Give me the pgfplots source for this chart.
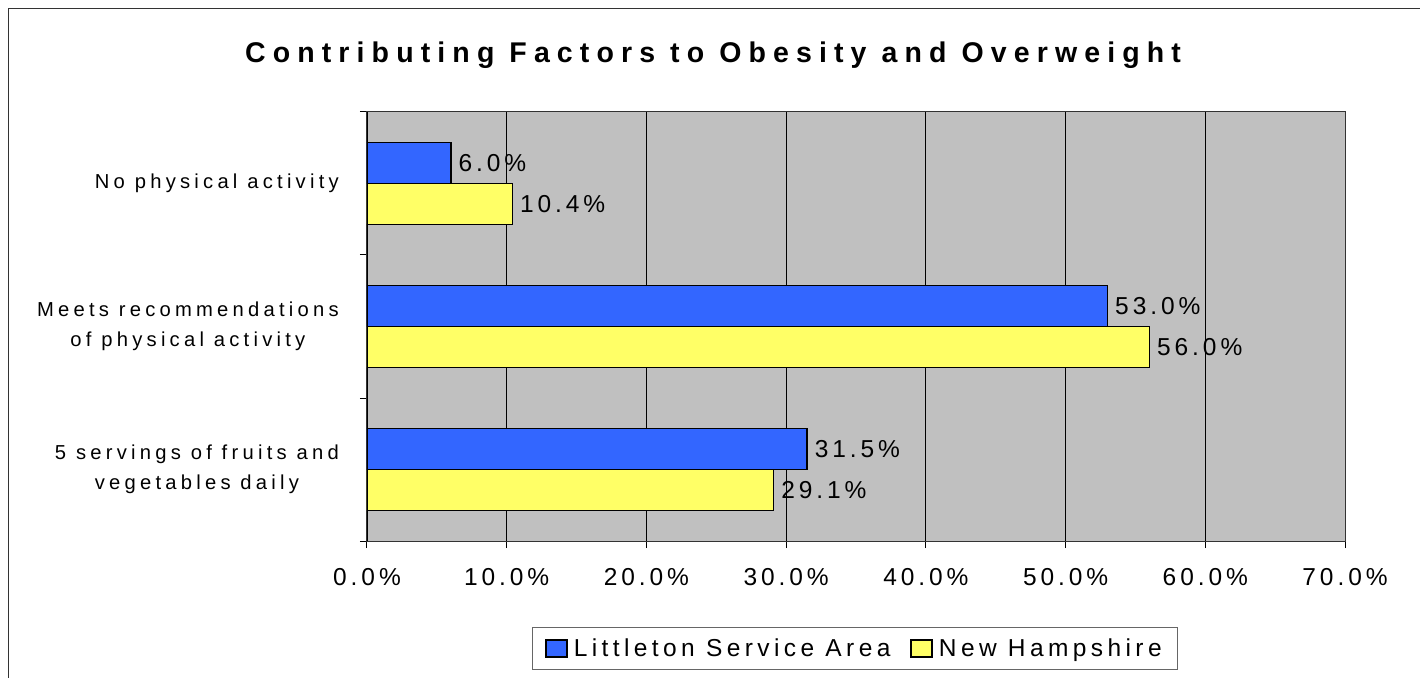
\documentclass[border=0pt]{standalone}
\usepackage{fontspec}
\setmainfont{Liberation Sans}
\newfontfamily\ticksans{Liberation Sans}[LetterSpace=16]
\newfontfamily\legsans{Liberation Sans}[LetterSpace=18]
\newfontfamily\labsans{Liberation Sans}[LetterSpace=21]
\newfontfamily\titlesans{Liberation Sans}[LetterSpace=25]
\usepackage{pgfplots}
\pgfplotsset{compat=1.18}
\definecolor{barblue}{HTML}{3366FF}
\definecolor{baryellow}{HTML}{FFFF66}
\definecolor{plotgray}{HTML}{C0C0C0}
\newcommand\tickfont{\ticksans\fontsize{24.5}{29}\selectfont}
\newcommand\legfont{\legsans\fontsize{24.5}{29}\selectfont}
\newcommand\labfont{\labsans\fontsize{20.2}{30}\selectfont}
\begin{document}
\begin{tikzpicture}[x=1pt,y=1pt]
\begin{scope}[shift={(-367,-136)}]
\useasboundingbox (0,0) rectangle (1420,677);
\fill[white] (0,0) rectangle (1420,677);
\begin{scope}
\clip (0,0) rectangle (1420,677);
\draw[line width=1.5pt, black!80] (8.5,-20) rectangle (1440,668.5);
\end{scope}
\node[anchor=base, inner sep=0pt, font=\titlesans\bfseries\fontsize{28.5}{34}\selectfont] at (713,614) {Contributing Factors to Obesity and Overweight};
\end{scope}
\begin{axis}[
  width=978pt, height=429pt, scale only axis,
  xbar,
  xmin=0, xmax=70, ymin=-0.5, ymax=2.5,
  axis background/.style={fill=plotgray},
  axis line style={draw=black!80, line width=1pt},
  xtick={0,10,...,70},
  xticklabel={\pgfmathprintnumber[fixed,fixed zerofill,precision=1]{\tick}\%},
  /pgf/number format/assume math mode=true,
  ytick={0,1,2},
  yticklabels={{5 servings of fruits and\\vegetables daily},{Meets recommendations\\of physical activity},{No physical activity}},
  minor ytick={-0.5,0.5,1.5,2.5},
  every major y tick/.append style={draw=none},
  tick pos=left,
  tick align=outside,
  major tick length=7pt, minor tick length=7pt,
  tick style={black, line width=1pt},
  xmajorgrids,
  major grid style={black, line width=0.8pt},
  xticklabel style={font=\tickfont, inner sep=0pt, yshift=-20pt},
  yticklabel style={font=\labfont, align=center, inner sep=0pt, xshift=-21pt},
  nodes near coords={\pgfmathprintnumber[fixed,fixed zerofill,precision=1]{\pgfplotspointmeta}\%},
  every node near coord/.append style={font=\tickfont, anchor=west, inner sep=0pt, xshift=7pt},
  legend style={at={(0.499,-0.2506)}, anchor=center, legend columns=2, draw=black!60, line width=1pt, font=\legfont,
    inner xsep=13pt, inner ysep=4pt,
    nodes={inner xsep=3pt, inner ysep=7pt},
    /tikz/every odd column/.append style={column sep=3pt},
    /tikz/every even column/.append style={column sep=17pt}},
  legend image code/.code={\draw[#1, draw=black, line width=1.5pt] (0pt,-8.5pt) rectangle (21pt,8.5pt);},
]
\addplot[fill=barblue, draw=black, line width=1.5pt, bar width=41pt, bar shift=20.5pt] coordinates {(31.5,0) (53.0,1) (6.0,2)};
\addplot[fill=baryellow, draw=black, line width=1.5pt, bar width=41pt, bar shift=-20.5pt] coordinates {(29.1,0) (56.0,1) (10.4,2)};
\legend{Littleton Service Area, New Hampshire}
\end{axis}
\end{tikzpicture}
\end{document}
